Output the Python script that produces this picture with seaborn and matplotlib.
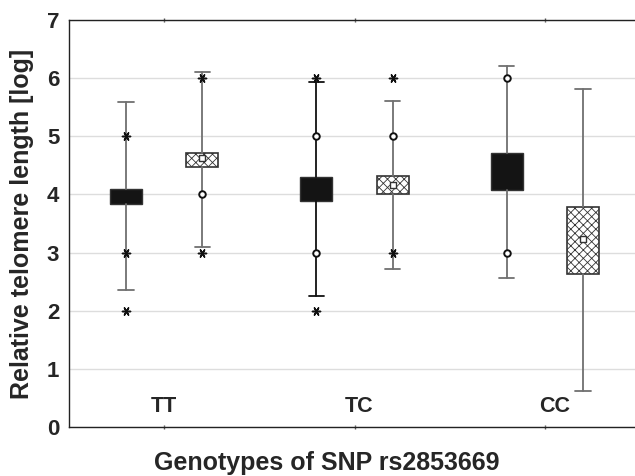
import matplotlib
matplotlib.use("Agg")
import matplotlib.pyplot as plt
import pandas as pd
import seaborn as sns

# genotype groups and box summaries
genotypes = ["TT", "TC", "CC"]

solid_whislo = [2.35, 2.26, 2.56]
solid_q1 = [3.84, 3.89, 4.07]
solid_q3 = [4.10, 4.30, 4.72]
solid_whishi = [5.59, 5.94, 6.21]

hatch_whislo = [3.09, 2.71, 0.62]
hatch_q1 = [4.48, 4.00, 2.64]
hatch_q3 = [4.72, 4.32, 3.79]
hatch_whishi = [6.11, 5.61, 5.81]
hatch_mean = [4.62, 4.17, 3.24]

# outliers: (group index, series, value, kind)
out_group = [0, 0, 0, 0, 0, 0, 1, 1, 1, 1, 1, 1, 1, 2, 2]
out_series = ["solid", "solid", "solid", "hatch", "hatch", "hatch",
              "solid", "solid", "solid", "solid", "hatch", "hatch", "hatch",
              "solid", "solid"]
out_value = [5, 3, 2, 6, 3, 4, 6, 2, 5, 3, 6, 3, 5, 6, 3]
out_kind = ["star", "star", "star", "star", "star", "circle",
            "star", "star", "circle", "circle", "star", "star", "circle",
            "circle", "circle"]

offset = 0.2
box_w = 0.168
cap_w = 0.08

sns.set_theme(style="white")
plt.rcParams["font.family"] = ["Liberation Sans", "DejaVu Sans"]
plt.rcParams["font.weight"] = "bold"
plt.rcParams["hatch.linewidth"] = 0.6

fig = plt.figure(figsize=(6.35, 4.76), dpi=100)
ax = fig.add_axes([69 / 635, 49 / 476, 571 / 635, 407 / 476])

ax.yaxis.grid(True, color="#dddddd", linewidth=1)
ax.set_axisbelow(True)


def make_stats(lo, q1, q3, hi, med):
    return [dict(whislo=a, q1=b, q3=c, whishi=d, med=e, fliers=[])
            for a, b, c, d, e in zip(lo, q1, q3, hi, med)]


solid_med = [(a + b) / 2 for a, b in zip(solid_q1, solid_q3)]
solid_stats = make_stats(solid_whislo, solid_q1, solid_q3, solid_whishi, solid_med)
hatch_stats = make_stats(hatch_whislo, hatch_q1, hatch_q3, hatch_whishi, hatch_mean)

pos = list(range(len(genotypes)))

b1 = ax.bxp(solid_stats, positions=[p - offset for p in pos], widths=box_w,
            capwidths=cap_w, showfliers=False, patch_artist=True,
            boxprops=dict(facecolor="#141414", edgecolor="#333333", linewidth=1),
            whiskerprops=dict(color="#707070", linewidth=1.3),
            capprops=dict(color="#707070", linewidth=1.3),
            medianprops=dict(linewidth=0), manage_ticks=False)
# middle genotype has darker whiskers in the original
for ln in b1["whiskers"][2:4] + b1["caps"][2:4]:
    ln.set_color("#111111")

b2 = ax.bxp(hatch_stats, positions=[p + offset for p in pos], widths=box_w,
            capwidths=cap_w, showfliers=False, patch_artist=True,
            boxprops=dict(facecolor="white", edgecolor="#333333", linewidth=1.2,
                          hatch="xxxx"),
            whiskerprops=dict(color="#707070", linewidth=1.3),
            capprops=dict(color="#707070", linewidth=1.3),
            medianprops=dict(linewidth=0), manage_ticks=False)

# mean markers on hatched boxes
means = pd.DataFrame({"x": [p + offset for p in pos], "y": hatch_mean})
sns.scatterplot(data=means, x="x", y="y", marker="s", s=20, facecolor="white",
                edgecolor="#333333", linewidth=1, ax=ax, zorder=5)

outl = pd.DataFrame({"g": out_group, "series": out_series, "y": out_value, "kind": out_kind})
outl["x"] = outl["g"] + outl["series"].map({"solid": -offset, "hatch": offset})
stars = outl[outl["kind"] == "star"]
circles = outl[outl["kind"] == "circle"]
sns.scatterplot(data=stars, x="x", y="y", marker=(6, 2, 90), s=34, color="#111111",
                linewidth=1.1, ax=ax, zorder=5)
sns.scatterplot(data=circles, x="x", y="y", marker="o", s=22, facecolor="white",
                edgecolor="#111111", linewidth=1.4, ax=ax, zorder=5)

ax.set_xlim(-0.5, 2.5)
ax.set_ylim(0, 7)
ax.set_yticks(range(0, 8))
ax.set_xticks(pos)
ax.set_xticklabels([])
ax.set_xlabel("")
ax.set_ylabel("")
ax.tick_params(axis="y", length=0, labelsize=16, pad=7)
ax.tick_params(axis="x", length=3, width=1, color="#555555", direction="out", bottom=True)
ax.tick_params(axis="x", which="major", top=True, direction="inout")

for i, g in enumerate(genotypes):
    ax.text(i + 0.025 * i, 0.36, g, ha="center", va="center", fontsize=15.5, fontweight="bold")

for side in ["left", "bottom", "top", "right"]:
    ax.spines[side].set_visible(True)
    ax.spines[side].set_color("#222222")
    ax.spines[side].set_linewidth(1)

ax.set_xlabel("Genotypes of SNP rs2853669", fontsize=18, fontweight="bold")
ax.set_ylabel("Relative telomere length [log]", fontsize=18, fontweight="bold")
ax.xaxis.set_label_coords((327 - 69) / 571, -24 / 407)
ax.yaxis.set_label_coords(-35 / 571, (427 - 224) / 407)

fig.savefig("out.png", dpi=100)
